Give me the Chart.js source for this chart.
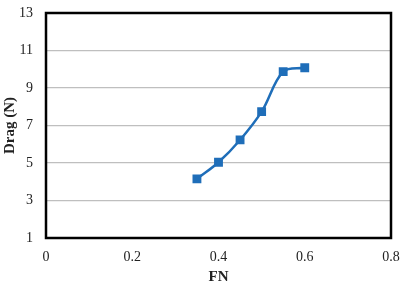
<!DOCTYPE html>
<html>
<head>
<meta charset="utf-8">
<script src="https://cdn.jsdelivr.net/npm/chart.js@4"></script>
<style>
  html, body { margin: 0; padding: 0; background: #fff; }
  #wrap { width: 402px; height: 288px; }
</style>
</head>
<body>
<div id="wrap"><canvas id="myChart" width="402" height="288"></canvas></div>
<script>
// values
const fn = [0.35, 0.4, 0.45, 0.5, 0.55, 0.6];
const drag = [4.15, 5.04, 6.23, 7.74, 9.87, 10.08];
const xTicks = [0, 0.2, 0.4, 0.6, 0.8];
const yTicks = [1, 3, 5, 7, 9, 11, 13];

const blue = 'rgb(31, 110, 185)';
const serif = "'Liberation Serif', 'Times New Roman', serif";

// black frame round the plot area
const frame = {
    id: 'frame',
    afterDraw(chart) {
        const a = chart.chartArea;
        const ctx = chart.ctx;
        ctx.save();
        ctx.strokeStyle = '#000';
        ctx.lineWidth = 2.5;
        ctx.strokeRect(a.left, a.top, a.right - a.left, a.bottom - a.top);
        ctx.restore();
    }
};

const points = fn.map((x, i) => ({ x: x, y: drag[i] }));

const config = {
    type: 'scatter',
    data: {
        datasets: [{
            data: points,
            showLine: true,
            borderColor: blue,
            backgroundColor: blue,
            borderWidth: 2.5,
            tension: 0.35,
            pointStyle: 'rect',
            pointRadius: 4.5,
            pointHoverRadius: 4.5
        }]
    },
    options: {
        responsive: false,
        animation: false,
        layout: { padding: { top: 13, right: 11, left: 1, bottom: 2 } },
        plugins: {
            legend: { display: false },
            tooltip: { enabled: false }
        },
        scales: {
            x: {
                type: 'linear',
                min: 0,
                max: 0.8,
                afterBuildTicks: s => { s.ticks = xTicks.map(v => ({ value: v })); },
                afterFit: s => { s.height = 48; s.paddingLeft = 0; s.paddingRight = 0; },
                grid: { display: false, drawTicks: false },
                border: { display: false },
                ticks: {
                    color: '#222',
                    padding: 11,
                    font: { family: serif, size: 14 },
                    callback: v => String(Math.round(v * 10) / 10)
                },
                title: {
                    display: true,
                    text: 'FN',
                    color: '#222',
                    padding: { top: 3, bottom: 0 },
                    font: { family: serif, size: 15, weight: 'bold' }
                }
            },
            y: {
                type: 'linear',
                min: 1,
                max: 13,
                afterBuildTicks: s => { s.ticks = yTicks.map(v => ({ value: v })); },
                afterFit: s => { s.width = 45; s.paddingTop = 0; s.paddingBottom = 0; },
                grid: { color: '#bfbfbf', lineWidth: 1.2, drawTicks: false },
                border: { display: false },
                ticks: {
                    color: '#222',
                    padding: 13,
                    font: { family: serif, size: 14 }
                },
                title: {
                    display: true,
                    text: 'Drag (N)',
                    color: '#222',
                    padding: { top: 0, bottom: 0 },
                    font: { family: serif, size: 15, weight: 'bold' }
                }
            }
        }
    },
    plugins: [frame]
};

let myChart = new Chart(document.getElementById('myChart'), config);
</script>
</body>
</html>
